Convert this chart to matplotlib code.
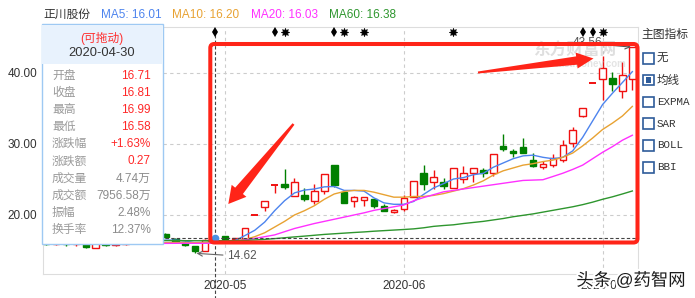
import numpy as np
import matplotlib.pyplot as plt
from matplotlib.patches import Rectangle, FancyBboxPatch, Polygon
import matplotlib.patheffects as pe

plt.rcParams['font.family'] = ['Liberation Sans', 'Noto Sans CJK SC']

# 60 daily candles (2020-04 .. 2020-07)
opens = [16.0, 15.9, 16.1, 15.9, 16.0, 15.4, 16.0, 15.8, 15.9, 16.2,
         16.3, 16.4, 17.3, 16.6, 16.17, 15.65, 14.99, 16.71, 17.0, 16.6,
         16.55, 19.94, 21.08, 24.17, 24.35, 22.7, 22.77, 21.97, 23.41, 27.02,
         23.27, 22.0, 22.06, 22.2, 21.26, 20.4, 20.8, 22.57, 25.86, 24.6,
         24.59, 23.75, 25.01, 25.86, 26.32, 25.86, 29.69, 29.03, 29.5, 27.72,
         26.74, 27.02, 27.72, 30.07, 33.9, 38.49, 39.06, 39.2, 37.46, 39.06]
highs = [16.2, 16.3, 16.2, 16.3, 16.1, 16.1, 16.1, 16.0, 16.4, 16.5,
         16.6, 16.7, 17.5, 16.75, 16.3, 15.7, 16.6, 16.99, 17.05, 16.8,
         18.13, 19.94, 21.97, 24.17, 26.4, 25.15, 23.83, 24.35, 25.72, 27.02,
         23.5, 22.67, 22.49, 22.2, 21.59, 20.85, 22.75, 24.78, 27.02, 26.3,
         25.15, 26.56, 26.88, 26.56, 26.6, 28.53, 31.38, 29.31, 30.77, 28.66,
         27.63, 28.57, 30.5, 32.4, 34.99, 38.49, 42.34, 40.04, 41.5, 43.56]
lows = [15.8, 15.8, 15.7, 15.6, 15.4, 15.3, 15.6, 15.6, 15.8, 16.1,
        16.2, 16.3, 16.7, 16.1, 15.6, 14.62, 14.9, 16.58, 16.5, 16.5,
        16.45, 19.94, 20.6, 23.05, 23.6, 22.67, 22.0, 21.55, 22.95, 23.9,
        21.73, 21.08, 21.3, 21.03, 20.52, 20.25, 20.55, 22.57, 23.5, 23.7,
        23.65, 23.75, 24.54, 24.68, 25.3, 25.48, 29.03, 28.19, 28.66, 26.7,
        26.46, 26.7, 27.4, 29.5, 33.7, 38.49, 36.1, 37.4, 36.47, 37.56]
closes = [15.9, 16.1, 15.9, 16.0, 15.55, 16.0, 15.8, 15.9, 16.2, 16.3,
          16.4, 16.5, 16.95, 16.2, 15.75, 14.94, 16.54, 16.81, 16.6, 16.7,
          18.13, 19.94, 21.97, 24.17, 23.9, 24.6, 22.2, 23.33, 25.72, 24.21,
          21.73, 22.49, 22.49, 21.3, 20.52, 20.65, 22.45, 24.78, 24.35, 25.3,
          24.12, 26.56, 25.86, 26.56, 25.94, 28.53, 29.27, 28.75, 28.66, 26.88,
          27.16, 27.96, 29.83, 31.94, 34.99, 38.49, 40.6, 38.4, 39.6, 43.56]

ma5 = [15.95, 15.95, 15.95, 15.95, 15.9, 15.9, 15.88, 15.85, 15.89, 16.04,
       16.12, 16.26, 16.47, 16.47, 16.36, 16.07, 16.08, 16.01, 16.15, 16.4,
       17.1, 17.85, 19.0, 20.6, 22.0, 23.1, 23.5, 23.65, 23.95, 24.0,
       23.45, 23.45, 23.35, 22.4, 21.7, 21.5, 21.5, 21.9, 22.9, 23.8,
       24.4, 25.05, 25.25, 25.65, 25.85, 26.7, 27.3, 27.9, 28.3, 28.4,
       28.1, 27.9, 28.1, 29.0, 30.9, 33.2, 35.5, 37.1, 38.6, 40.13]
ma10 = [16.0, 16.0, 16.0, 15.98, 15.97, 15.96, 15.95, 15.95, 15.96, 16.0,
        16.02, 16.05, 16.12, 16.15, 16.13, 16.1, 16.15, 16.2, 16.28, 16.35,
        16.55, 16.95, 17.5, 18.3, 19.1, 20.0, 20.6, 21.3, 22.2, 22.95,
        23.3, 23.45, 23.45, 23.2, 22.85, 22.5, 22.5, 22.6, 22.6, 22.75,
        23.0, 23.35, 23.7, 24.2, 24.8, 25.6, 26.2, 26.6, 27.0, 27.2,
        27.5, 27.7, 28.1, 28.7, 29.7, 30.8, 32.0, 32.9, 33.9, 35.25]
ma20 = [16.25, 16.22, 16.18, 16.15, 16.1, 16.07, 16.04, 16.02, 16.01, 16.0,
        16.0, 16.0, 16.01, 16.02, 16.03, 16.02, 16.02, 16.03, 16.1, 16.3,
        16.5, 16.7, 16.95, 17.2, 17.65, 18.1, 18.45, 18.8, 19.1, 19.4,
        19.7, 20.0, 20.3, 20.65, 20.9, 21.15, 21.4, 22.0, 22.45, 22.85,
        23.25, 23.45, 23.65, 23.85, 24.05, 24.25, 24.45, 24.65, 24.85, 24.9,
        24.95, 25.4, 25.86, 26.4, 27.0, 27.9, 28.8, 29.6, 30.5, 31.2]
ma60 = [16.5, 16.49, 16.48, 16.47, 16.46, 16.45, 16.44, 16.43, 16.42, 16.41,
        16.4, 16.4, 16.4, 16.4, 16.39, 16.38, 16.38, 16.38, 16.39, 16.4,
        16.43, 16.49, 16.57, 16.68, 16.8, 16.92, 17.03, 17.15, 17.27, 17.36,
        17.45, 17.54, 17.62, 17.72, 17.8, 17.88, 17.96, 18.05, 18.2, 18.4,
        18.52, 18.62, 18.8, 18.95, 19.1, 19.3, 19.5, 19.75, 19.95, 20.15,
        20.4, 20.65, 20.9, 21.15, 21.45, 21.8, 22.2, 22.55, 22.95, 23.37]

month_pos = [18, 36, 56]
month_labels = ['2020-05', '2020-06', '2020-07']
pin_days = [17, 23, 29, 54, 55]
star_days = [24, 30, 32, 41, 56]
hover_day = 17

stock_name = '正川股份'
ma_names = ['MA5', 'MA10', 'MA20', 'MA60']
ma_now = [16.01, 16.20, 16.03, 16.38]
tip_date = '2020-04-30'
tip_names = ['开盘', '收盘', '最高', '最低', '涨跌幅', '涨跌额', '成交量', '成交额', '振幅', '换手率']
tip_values = ['16.71', '16.81', '16.99', '16.58', '+1.63%', '0.27', '4.74万', '7956.58万', '2.48%', '12.37%']
indicators = ['无', '均线', 'EXPMA', 'SAR', 'BOLL', 'BBI']
checked = '均线'

W, H = 695, 298
RED = '#f01010'
MARK = '#ff2418'
GREEN = '#008000'
ma_colors = ['#4d84ee', '#e8a232', '#ff30ff', '#2e962e']

fig = plt.figure(figsize=(W / 100, H / 100), dpi=100)


def frac(x0, y0, x1, y1):
    # pixel box (origin top-left) -> figure fraction rect
    return [x0 / W, 1 - y1 / H, (x1 - x0) / W, (y1 - y0) / H]


ax = fig.add_axes(frac(43, 27, 638, 274))
ax.set_xlim(-0.31, 59.57)
ax.set_ylim(11.71, 46.40)

# candles
bw = 0.66
for i in range(len(closes)):
    o, h, l, c = opens[i], highs[i], lows[i], closes[i]
    up = c >= o
    col = RED if up else GREEN
    top, bot = max(o, c), min(o, c)
    if h > top:
        ax.vlines(i, top, h, color=col, lw=1, zorder=2)
    if l < bot:
        ax.vlines(i, l, bot, color=col, lw=1, zorder=2)
    if top - bot < 0.08:
        ax.hlines(top, i - bw / 2, i + bw / 2, color=col, lw=1.4, zorder=2)
    else:
        ax.add_patch(Rectangle((i - bw / 2, bot), bw, top - bot,
                               fc='white' if up else col, ec=col, lw=1, zorder=2))

days = np.arange(len(closes))
for vals, colr in zip([ma5, ma10, ma20, ma60], ma_colors):
    ax.plot(days, vals, color=colr, lw=1, zorder=3)

# grid / axes
ax.set_yticks([20, 30, 40])
ax.set_yticklabels(['%.2f' % v for v in [20, 30, 40]])
ax.set_xticks(month_pos)
ax.set_xticklabels(month_labels)
ax.grid(True, ls=(0, (3, 3)), color='#cccccc', lw=0.8)
ax.set_axisbelow(True)
ax.tick_params(length=0, labelsize=8.5, colors='#333333', pad=4.3)
for sp in ax.spines.values():
    sp.set_color('#dddddd')
    sp.set_linewidth(0.8)

# crosshair on hovered day
ax.axhline(closes[hover_day], color='#444444', ls=(0, (3, 2)), lw=0.8, zorder=3)
ax.axvline(hover_day, ymin=-0.1, ymax=1, color='#444444', ls=(0, (3, 2)), lw=0.8,
           zorder=3, clip_on=False)
ax.plot(hover_day, closes[hover_day], 'o', color='#4a90e2', ms=4.5, zorder=4)

# event markers along the top
ax.plot(pin_days, [45.66] * len(pin_days), 'd', color='black', ms=5, mew=0,
        clip_on=False, zorder=4)
ax.plot(star_days, [45.66] * len(star_days), marker=(8, 1, 0), ls='none', color='black',
        ms=6, mew=0.5, clip_on=False, zorder=4)

# low / high labels
lo = int(np.argmin(lows))
ax.annotate('%.2f' % lows[lo], xy=(lo, lows[lo]), xytext=(32, -3), textcoords='offset pixels',
            ha='left', va='center', fontsize=8.5, color='#555555',
            arrowprops=dict(arrowstyle='->', color='#666666', lw=0.8, shrinkA=1, shrinkB=1))
hi = int(np.argmax(highs))
ax.annotate('%.2f' % highs[hi], xy=(hi, highs[hi]), xytext=(-30, 4), textcoords='offset pixels',
            ha='right', va='center', fontsize=8.5, color='#555555',
            arrowprops=dict(arrowstyle='->', color='#555555', lw=0.8, shrinkA=1, shrinkB=1))

# overlay in pixel coordinates for the screenshot decorations
ov = fig.add_axes([0, 0, 1, 1], zorder=5)
ov.set_xlim(0, W)
ov.set_ylim(H, 0)
ov.axis('off')

# title row
ov.text(43, 15, stock_name, fontsize=8.5, color='#333333', va='center')
for xx, name, v, colr in zip([101, 172, 251, 329], ma_names, ma_now, ma_colors):
    ov.text(xx, 15, '%s: %.2f' % (name, v), fontsize=8.5, color=colr, va='center')

# watermarks
ov.text(575, 51, '东方财富网', fontsize=12, fontweight='bold', color='#b8b8b8', alpha=0.45,
        ha='center', va='center', zorder=1)
ov.text(590, 64, 'eastmoney.com', fontsize=7, fontweight='bold', color='#c4c4c4', alpha=0.45,
        ha='center', va='center', zorder=1)

# red highlight box
ov.add_patch(FancyBboxPatch((210.3, 44), 427.2, 198.5, boxstyle='round,pad=0,rounding_size=4',
                            fill=False, ec=MARK, lw=2.9, zorder=3))


def wedge_arrow(tail, tip, w_tail, w_neck, w_head, head_len):
    tail, tip = np.array(tail, float), np.array(tip, float)
    u = (tip - tail) / np.linalg.norm(tip - tail)
    n = np.array([-u[1], u[0]])
    base = tip - u * head_len
    pts = [tail + n * w_tail, base + n * w_neck, base + n * w_head, tip,
           base - n * w_head, base - n * w_neck, tail - n * w_tail]
    ov.add_patch(Polygon(pts, closed=True, fc=MARK, ec='none', zorder=4))


wedge_arrow((293.5, 124), (228.3, 204), 1.2, 5, 9.5, 17)
wedge_arrow((478, 72.5), (593.5, 58.5), 1.0, 4.2, 8, 17)

# tooltip box
ov.add_patch(Rectangle((41.5, 24), 121, 220, fc='white', ec='#9ec9f3', lw=1, zorder=10))
ov.add_patch(Rectangle((42, 24.5), 120, 39.5, fc='#e8f2fd', ec='none', zorder=11))
ov.text(102, 38.5, '(可拖动)', fontsize=8.5, color='#ff3030', ha='center', va='center', zorder=12)
ov.text(102, 53.5, tip_date, fontsize=9.3, color='#333333', ha='center', va='center', zorder=12)
for k, (name, val) in enumerate(zip(tip_names, tip_values)):
    y = 75.7 + 17.14 * k
    ov.text(52, y, name, fontsize=8.5, color='#9a9a9a', va='center', zorder=12)
    ov.text(151, y, val, fontsize=8.5, color='#ff2828' if k < 6 else '#8c8c8c',
            ha='right', va='center', zorder=12)

# indicator panel on the right
ov.text(641, 35, '主图指标', fontsize=8.5, color='#333333', va='center')
for k, name in enumerate(indicators):
    yc = 58.3 + 21.8 * k
    ov.add_patch(Rectangle((643, yc - 5.3), 10.6, 10.6, fill=False, ec='#2d5b9a', lw=1.2))
    if name == checked:
        ov.add_patch(Rectangle((645.6, yc - 2.7), 5.4, 5.4, fc='#2d5b9a', ec='none'))
    fam = ['Liberation Mono'] if name.isascii() else ['Noto Sans CJK SC']
    ov.text(657, yc, name, fontsize=7.8 if name.isascii() else 8.3, family=fam,
            color='#333333', va='center')

ov.text(631, 280, '头条 @药智网', fontsize=12.5, color='#1a1a1a', ha='center', va='center',
        path_effects=[pe.withStroke(linewidth=3, foreground='white')], zorder=20)

fig.savefig('out.png', dpi=100)
